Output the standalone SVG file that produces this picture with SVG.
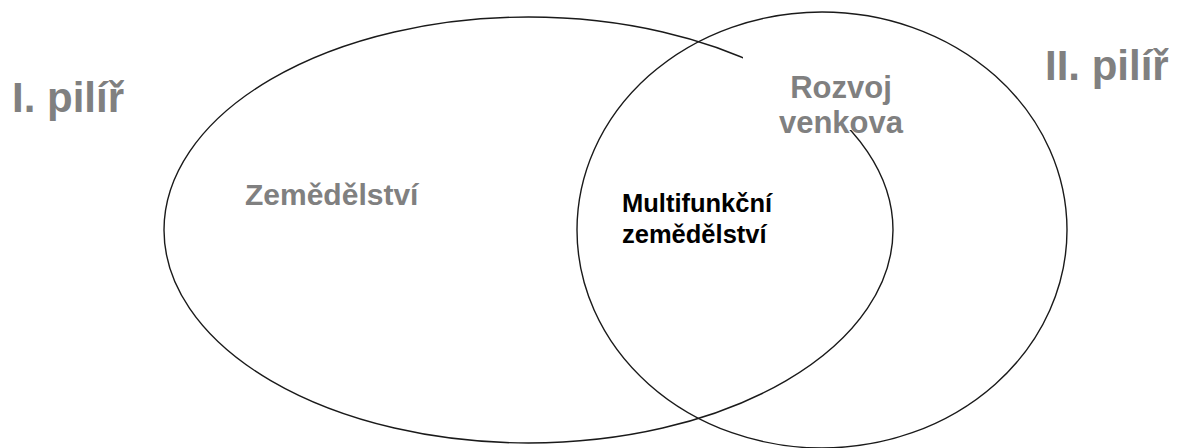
<svg xmlns="http://www.w3.org/2000/svg" width="1179" height="448" viewBox="0 0 1179 448">
<style>
.ell{fill:none;stroke:#1a1a1a;stroke-width:1.4}
.gray{fill:#808080;font-family:"Liberation Sans",Arial,sans-serif;font-weight:bold}
.blk{fill:#000;font-family:"Liberation Sans",Arial,sans-serif;font-weight:bold}
</style>
<rect width="1179" height="448" fill="#fff"/>
<g id="pillar1"><text class="gray" x="12" y="112" font-size="42">I. pilíř</text></g>
<g id="pillar2"><text class="gray" x="1045" y="80" font-size="42">II. pilíř</text></g>
<g id="zemedelstvi">
<ellipse class="ell" cx="528.5" cy="230" rx="364.5" ry="213"/>
<text class="gray" x="245" y="205" font-size="30">Zemědělství</text>
</g>
<g id="rozvoj">
<ellipse class="ell" cx="822" cy="230" rx="245" ry="218"/>
<rect x="743" y="40" width="180" height="90" fill="#fff"/>
<text class="gray" x="841" y="98" font-size="31" text-anchor="middle">Rozvoj</text>
<text class="gray" x="841" y="133" font-size="31" text-anchor="middle">venkova</text>
</g>
<g id="multifunkcni">
<text class="blk" x="622" y="212" font-size="25.5">Multifunkční</text>
<text class="blk" x="622" y="243" font-size="25.5">zemědělství</text>
</g>
<g id="connectors"></g>
</svg>
